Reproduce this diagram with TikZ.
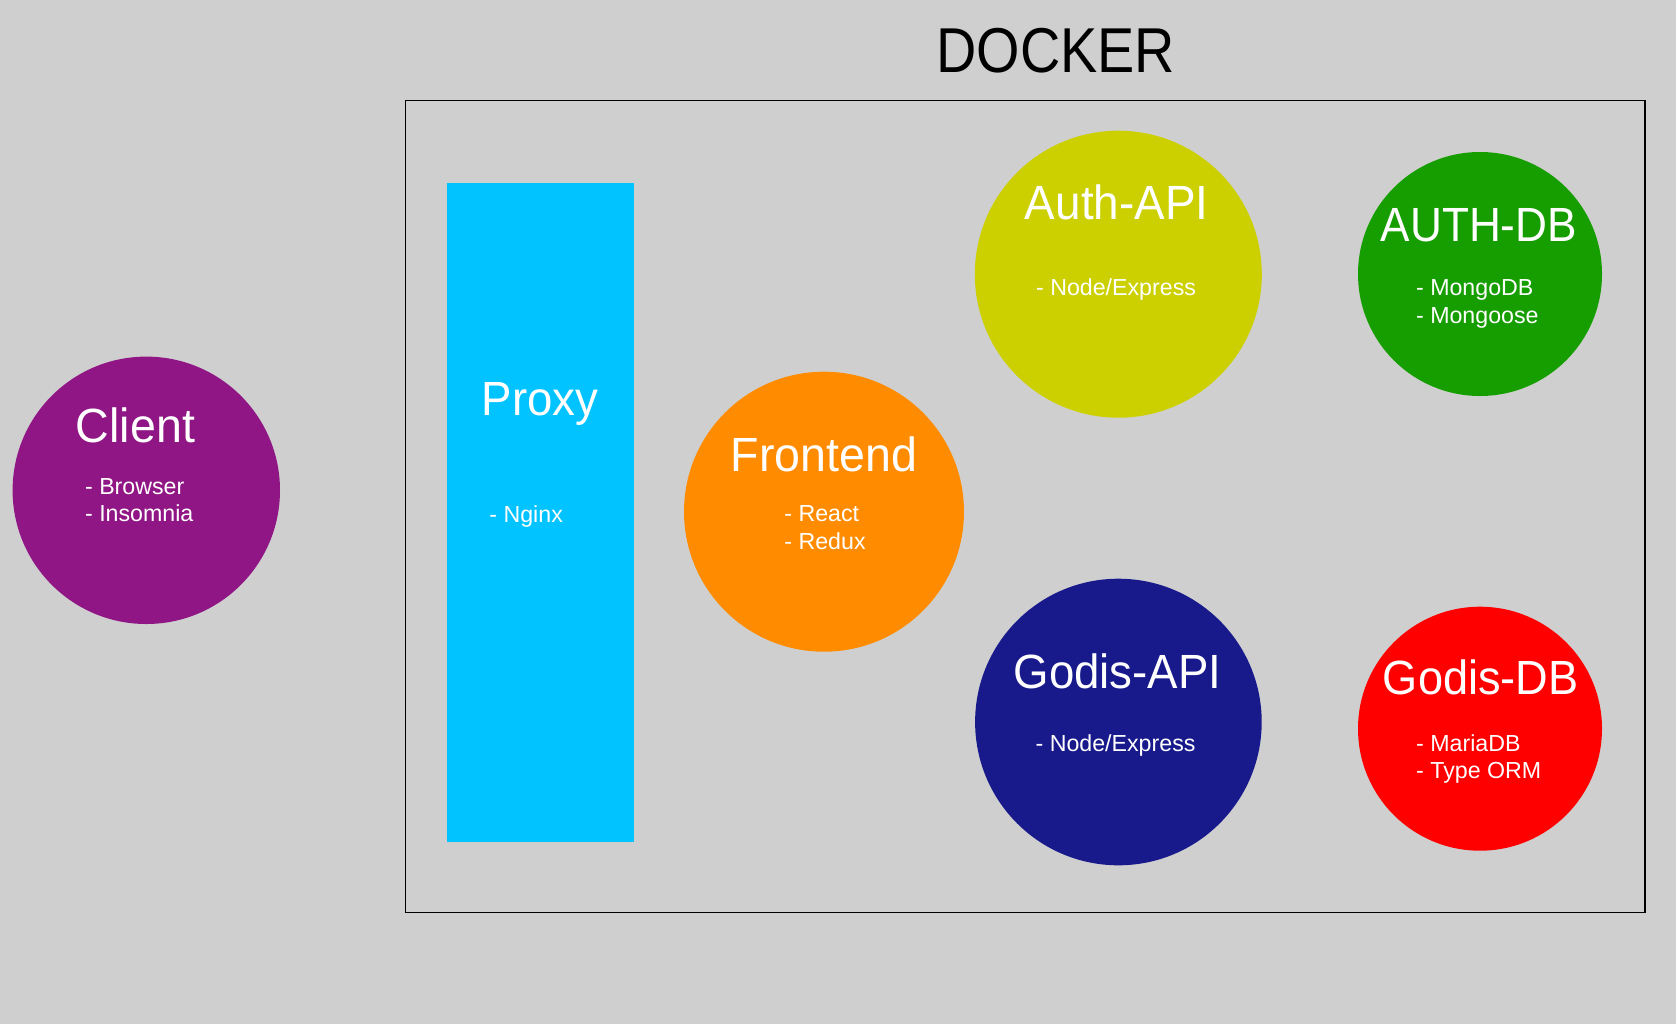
\documentclass[tikz,border=0pt]{standalone}
\usepackage{fontspec}
\setmainfont{Liberation Sans}
\definecolor{bgc}{HTML}{CFCFCF}
\definecolor{clientc}{HTML}{901585}
\definecolor{proxyc}{HTML}{00C3FF}
\definecolor{frontc}{HTML}{FF8C00}
\definecolor{authapic}{HTML}{CCD000}
\definecolor{authdbc}{HTML}{169E00}
\definecolor{godisapic}{HTML}{181A8C}
\definecolor{godisdbc}{HTML}{FF0000}
\newcommand{\cond}[2]{\scalebox{#1}[1]{#2}}
\begin{document}
\begin{tikzpicture}[x=0.5pt,y=-0.5pt,
  blob/.style={circle, draw=none, inner sep=0pt},
  titletext/.style={text=white, font=\fontsize{24}{28}\selectfont, anchor=base, inner sep=0pt},
  subtext/.style={text=white, font=\fontsize{11.6}{14}\selectfont, anchor=base west, inner sep=0pt}]
\fill[bgc] (0,0) rectangle (1676,1024);
\useasboundingbox (0,0) rectangle (1676,1024);

% Docker frame
\node[draw=black, line width=0.65pt, minimum width=619.75pt, minimum height=405.75pt, inner sep=0pt] (docker) at (1025.25,506.45) {};
\node[anchor=base, inner sep=0pt, font=\fontsize{31.7}{36}\selectfont] (dockertitle) at (1055.9,72.7) {\cond{0.88}{DOCKER}};

% Client
\node[blob, fill=clientc, minimum size=133.7pt] (client) at (146.3,490.3) {};
\node[titletext] (clientt) at (135.5,442.7) {\cond{0.97}{Client}};
\node[subtext] (client1) at (84.7,494) {- Browser};
\node[subtext] (client2) at (84.7,521.7) {- Insomnia};

% Proxy
\node[draw=none, fill=proxyc, minimum width=93.65pt, minimum height=329.5pt, inner sep=0pt] (proxy) at (540.35,512.2) {};
\node[titletext] (proxyt) at (540,415.7) {\cond{0.95}{Proxy}};
\node[subtext] (proxy1) at (489,522.3) {- Nginx};

% Frontend
\node[blob, fill=frontc, minimum size=140pt] (front) at (824,511.7) {};
\node[titletext] (frontt) at (824,471) {\cond{0.97}{Frontend}};
\node[subtext] (front1) at (784,521.7) {- React};
\node[subtext] (front2) at (784,549.3) {- Redux};

% Auth-API
\node[blob, fill=authapic, minimum size=143.5pt] (authapi) at (1118.3,274.2) {};
\node[titletext] (authapit) at (1116.7,219.3) {\cond{0.955}{Auth-API}};
\node[subtext] (authapi1) at (1035.7,295.7) {- Node/Express};

% AUTH-DB
\node[blob, fill=authdbc, minimum size=122pt] (authdb) at (1480,274) {};
\node[titletext] (authdbt) at (1478.8,241) {\cond{0.92}{AUTH-DB}};
\node[subtext] (authdb1) at (1415.7,295.7) {- MongoDB};
\node[subtext] (authdb2) at (1415.7,323.3) {- Mongoose};

% Godis-API
\node[blob, fill=godisapic, minimum size=143.3pt] (godisapi) at (1118.4,722) {};
\node[titletext] (godisapit) at (1117.5,688.7) {\cond{0.95}{Godis-API}};
\node[subtext] (godisapi1) at (1035.2,751.3) {- Node/Express};

% Godis-DB
\node[blob, fill=godisdbc, minimum size=122pt] (godisdb) at (1480,728.7) {};
\node[titletext] (godisdbt) at (1480.7,694.7) {\cond{0.94}{Godis-DB}};
\node[subtext] (godisdb1) at (1415.8,751.3) {- MariaDB};
\node[subtext] (godisdb2) at (1415.8,778.7) {- Type ORM};
\end{tikzpicture}
\end{document}
